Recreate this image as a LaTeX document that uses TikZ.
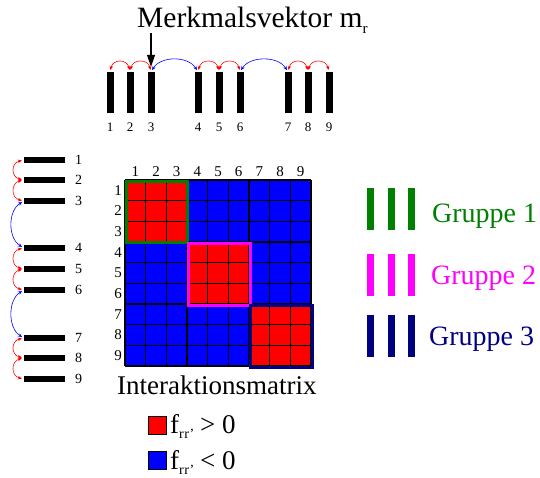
\documentclass[tikz,border=0pt]{standalone}
\usepackage{fontspec}
\setmainfont{Liberation Serif}
\usetikzlibrary{arrows.meta}
\definecolor{grpgreen}{RGB}{0,128,0}
\definecolor{grpmag}{RGB}{255,0,255}
\definecolor{grpnavy}{RGB}{0,0,128}
\definecolor{cellred}{RGB}{255,0,0}
\definecolor{cellblue}{RGB}{0,0,255}
\newcommand{\frsub}{f\raisebox{-5pt}{\fontsize{14}{14}\selectfont r\kern0.5pt r’}}
\begin{document}
\begin{tikzpicture}[x=1pt,y=-1pt,
  vbar/.style={fill=black,inner sep=0pt,minimum width=7pt,minimum height=41pt},
  hbar/.style={fill=black,inner sep=0pt,minimum width=41pt,minimum height=6pt},
  gbar/.style={inner sep=0pt,minimum width=7pt,minimum height=42pt},
  numlab/.style={font=\fontsize{13}{13}\selectfont,inner sep=0pt},
  leftlab/.style={font=\fontsize{14}{14}\selectfont,inner sep=0pt},
  matlab/.style={font=\fontsize{15}{15}\selectfont,inner sep=0pt},
  bigtext/.style={font=\fontsize{27}{27}\selectfont,inner sep=0pt},
  redarc/.style={draw=red,line width=0.6pt,{Stealth[length=4pt,width=3.5pt]}-{Stealth[length=4pt,width=3.5pt]},shorten <=2pt,shorten >=2pt},
  bluearc/.style={draw=blue,line width=0.6pt,{Stealth[length=4pt,width=3.5pt]}-{Stealth[length=4pt,width=3.5pt]},shorten <=2pt,shorten >=2pt},
  legsq/.style={draw=black,line width=0.8pt,inner sep=0pt,minimum width=18pt,minimum height=18pt}]
\useasboundingbox (0,0) rectangle (540,477);

% title
\node[anchor=base west,inner sep=0pt,font=\fontsize{29.5}{29.5}\selectfont] (title) at (137,27) {Merkmalsvektor m\raisebox{-6pt}{\fontsize{15}{15}\selectfont r}};

% top bars
\foreach \i/\x in {1/110,2/130,3/151,4/198,5/219,6/240,7/288,8/308,9/329}{
  \node[vbar] (t\i) at (\x,92.5) {};
  \node[numlab,anchor=base] (tl\i) at (\x,131) {\i};
}
\coordinate (arrstart) at (151,33);
\draw[line width=1.2pt,-{Triangle[length=12pt,width=8pt]}] (arrstart) -- ([yshift=5pt]t3.north);
% top arcs
\foreach \a/\b in {1/2,2/3,4/5,5/6,7/8,8/9}{
  \draw[redarc] (t\a.north) .. controls +(3,-13) and +(-3,-13) .. (t\b.north);
}
\foreach \a/\b in {3/4,6/7}{
  \draw[bluearc] (t\a.north) .. controls +(10,-16) and +(-10,-16) .. (t\b.north);
}

% left bars
\foreach \i/\y in {1/160,2/180,3/201,4/248,5/269,6/290,7/338,8/358,9/379}{
  \node[hbar] (l\i) at (44.5,\y) {};
  \node[leftlab,anchor=west] (ll\i) at (75,\y) {\i};
}
\foreach \a/\b in {1/2,2/3,4/5,5/6,7/8,8/9}{
  \draw[redarc] (l\a.west) .. controls +(-13,3) and +(-13,-3) .. (l\b.west);
}
\foreach \a/\b in {3/4,6/7}{
  \draw[bluearc] (l\a.west) .. controls +(-16,10) and +(-16,-10) .. (l\b.west);
}

% matrix
\def\cs{20.6667}
\fill[cellblue] (125,180) rectangle ++(186,186);
\fill[cellred] (125,180) rectangle ++(62,62);
\fill[cellred] (187,242) rectangle ++(62,62);
\fill[cellred] (249,304) rectangle ++(62,62);
\foreach \k in {0,...,9}{
  \draw[black,line width=1.1pt] (125+\k*\cs,180) -- (125+\k*\cs,366);
  \draw[black,line width=1.1pt] (125,180+\k*\cs) -- (311,180+\k*\cs);
}
\draw[grpgreen,line width=3pt] (126,181) rectangle (187,242);
\draw[grpmag,line width=3pt] (188,243) rectangle (250,305);
\draw[grpnavy,line width=3pt] (250,305) rectangle (312,367);
\foreach \k in {1,...,9}{
  \node[matlab] (c\k) at (125+\k*\cs-0.5*\cs,172) {\k};
  \node[matlab] (r\k) at (118,180+\k*\cs-0.5*\cs) {\k};
}
\node[bigtext,anchor=base west] (imat) at (117,394) {Interaktionsmatrix};

% group legend
\foreach \g/\c/\y in {1/grpgreen/209,2/grpmag/275,3/grpnavy/336}{
  \node[gbar,fill=\c] (g\g a) at (370,\y) {};
  \node[gbar,fill=\c] (g\g b) at (391.5,\y) {};
  \node[gbar,fill=\c] (g\g c) at (411.5,\y) {};
}
\node[anchor=base west,inner sep=0pt,font=\fontsize{28}{28}\selectfont,text=grpgreen] (gt1) at (432,222) {Gruppe 1};
\node[anchor=base west,inner sep=0pt,font=\fontsize{28}{28}\selectfont,text=grpmag] (gt2) at (431,284) {Gruppe 2};
\node[anchor=base west,inner sep=0pt,font=\fontsize{28}{28}\selectfont,text=grpnavy] (gt3) at (429,345) {Gruppe 3};

% value legend
\node[legsq,fill=cellred] (sqr) at (157,425) {};
\node[legsq,fill=cellblue] (sqb) at (157,460) {};
\node[bigtext,anchor=base west] (fr) at (170,433) {\frsub\kern6pt> 0};
\node[bigtext,anchor=base west] (fb) at (170,469) {\frsub\kern6pt< 0};
\end{tikzpicture}
\end{document}
